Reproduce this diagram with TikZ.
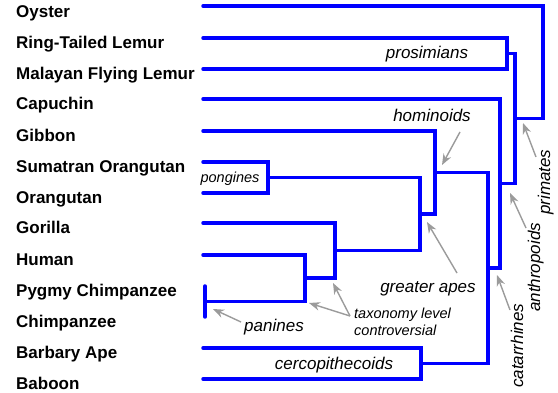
\documentclass[tikz,border=0pt]{standalone}
\usepackage{fontspec}
\setmainfont{Liberation Sans}
\usetikzlibrary{arrows.meta}
\definecolor{treeblue}{RGB}{0,0,255}
\definecolor{notegray}{RGB}{155,155,155}

\begin{document}
\begin{tikzpicture}[x=1pt, y=-1pt,
    branch/.style={treeblue, line width=3.5pt, line cap=round, line join=miter},
    leaf/.style={anchor=base west, inner sep=0pt, font=\bfseries\fontsize{17}{20}\selectfont},
    clade/.style={anchor=base, inner sep=0pt, font=\itshape\fontsize{17}{20}\selectfont},
    smallclade/.style={clade, font=\itshape\fontsize{14.5}{17}\selectfont},
    pointer/.style={notegray, line width=1.4pt, -{Stealth[length=11pt, width=8.5pt, inset=3.5pt]}}]
    \useasboundingbox (0,0) rectangle (558,393);

    % leaves
    \node[leaf] (oyster-t)    at (16,18)  {Oyster};
    \node[leaf] (ringtail-t)  at (16,49)  {Ring-Tailed Lemur};
    \node[leaf] (malayan-t)   at (16,80)  {Malayan Flying Lemur};
    \node[leaf] (capuchin-t)  at (16,110) {Capuchin};
    \node[leaf] (gibbon-t)    at (16,142) {Gibbon};
    \node[leaf] (sumatran-t)  at (16,173) {Sumatran Orangutan};
    \node[leaf] (orangutan-t) at (16,204) {Orangutan};
    \node[leaf] (gorilla-t)   at (16,234) {Gorilla};
    \node[leaf] (human-t)     at (16,266) {Human};
    \node[leaf] (pygmy-t)     at (16,297) {Pygmy Chimpanzee};
    \node[leaf] (chimp-t)     at (16,328) {Chimpanzee};
    \node[leaf] (barbary-t)   at (16,359) {Barbary Ape};
    \node[leaf] (baboon-t)    at (16,390) {Baboon};

    \coordinate (oyster)    at (203,6);
    \coordinate (ringtail)  at (203,38);
    \coordinate (malayan)   at (203,69);
    \coordinate (capuchin)  at (203,99);
    \coordinate (gibbon)    at (203,131);
    \coordinate (sumatran)  at (203,162);
    \coordinate (orangutan) at (203,193);
    \coordinate (gorilla)   at (203,223);
    \coordinate (human)     at (203,255);
    \coordinate (pygmy)     at (205,286);
    \coordinate (chimp)     at (205,317);
    \coordinate (barbary)   at (203,348);
    \coordinate (baboon)    at (203,379);

    % junctions
    \coordinate (pon)  at (268,177.5);
    \coordinate (pan)  at (205,301.5);
    \coordinate (hc)   at (305,278);
    \coordinate (gc)   at (335,250.5);
    \coordinate (ga)   at (420,214);
    \coordinate (hom)  at (435,172.5);
    \coordinate (cer)  at (421,363.5);
    \coordinate (cat)  at (488,268);
    \coordinate (ant)  at (500,183.5);
    \coordinate (pro)  at (507,53.5);
    \coordinate (pri)  at (515,118.5);
    \coordinate (root) at (543,62);

    \draw[branch] (sumatran) -| (pon) |- (orangutan);
    \draw[branch] (pygmy) -- (chimp);
    \draw[branch] (human) -| (hc) |- (pan);
    \draw[branch] (gorilla) -| (gc) |- (hc);
    \draw[branch] (pon) -| (ga) |- (gc);
    \draw[branch] (gibbon) -| (hom) |- (ga);
    \draw[branch] (barbary) -| (cer) |- (baboon);
    \draw[branch] (hom) -| (cat) |- (cer);
    \draw[branch] (capuchin) -| (ant) |- (cat);
    \draw[branch] (ringtail) -| (pro) |- (malayan);
    \draw[branch] (pro) -| (pri) |- (ant);
    \draw[branch] (oyster) -| (root) |- (pri);

    % clade names
    \node[clade] (prosimians)      at (427,59)  {prosimians};
    \node[clade] (hominoids)       at (432,122) {hominoids};
    \node[smallclade] (pongines)   at (230,183) {pongines};
    \node[clade] (greaterapes)     at (428,293) {greater apes};
    \node[smallclade, anchor=base west] (taxo1) at (354,319) {taxonomy level};
    \node[smallclade, anchor=base west] (taxo2) at (354,336) {controversial};
    \node[clade] (panines)         at (274,332) {panines};
    \node[clade] (cercopithecoids) at (334,370) {cercopithecoids};
    \node[clade, anchor=base west, rotate=90] (catarrhines) at (523,388) {catarrhines};
    \node[clade, anchor=base west, rotate=90] (anthropoids) at (540,312) {anthropoids};
    \node[clade, anchor=base west, rotate=90] (primates)    at (550,215) {primates};

    % pointers
    \coordinate (hom-tail) at (460,132);  \coordinate (hom-tip) at (442,165);
    \coordinate (ga-tail)  at (457,273);  \coordinate (ga-tip)  at (427,222);
    \coordinate (taxo-tail) at (350,316);
    \coordinate (gc-tip)   at (333,283);  \coordinate (hc-tip)  at (309,303);
    \coordinate (pan-tail) at (241,322);  \coordinate (pan-tip) at (213,309);
    \coordinate (cat-tail) at (510,310);  \coordinate (cat-tip) at (497,275);
    \coordinate (ant-tail) at (526,228);  \coordinate (ant-tip) at (510,193);
    \coordinate (pri-tail) at (536,157);  \coordinate (pri-tip) at (523,123);

    \draw[pointer] (hom-tail) -- (hom-tip);
    \draw[pointer] (ga-tail) -- (ga-tip);
    \draw[pointer] (taxo-tail) -- (gc-tip);
    \draw[pointer] (taxo-tail) -- (hc-tip);
    \draw[pointer] (pan-tail) -- (pan-tip);
    \draw[pointer] (cat-tail) -- (cat-tip);
    \draw[pointer] (ant-tail) -- (ant-tip);
    \draw[pointer] (pri-tail) -- (pri-tip);
\end{tikzpicture}
\end{document}
